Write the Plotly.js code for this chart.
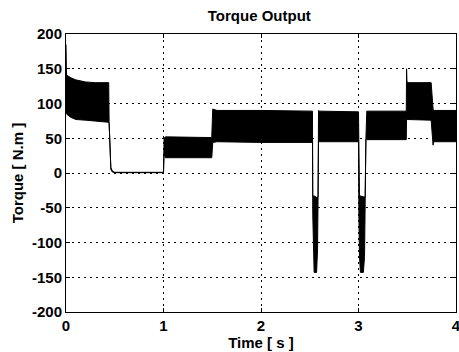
<!DOCTYPE html>
<html>
<head>
<meta charset="utf-8">
<script src="https://cdn.plot.ly/plotly-3.0.1.min.js"></script>
<style>html,body{margin:0;padding:0;background:#fff;}#chart{width:459px;height:352px;}</style>
</head>
<body>
<div id="chart"></div>
<script>
// Time axis samples (s)
const time = [0, 0.005, 0.05, 0.1, 0.2, 0.3, 0.438, 0.442, 0.46, 0.475, 0.5, 0.99, 1.0, 1.006, 1.02, 1.49, 1.495, 1.505, 1.55, 2.0, 2.528, 2.531, 2.536, 2.545, 2.57, 2.58, 2.585, 2.59, 2.6, 3.0, 3.004, 3.01, 3.02, 3.05, 3.062, 3.068, 3.076, 3.085, 3.49, 3.493, 3.497, 3.51, 3.745, 3.765, 3.77, 4.0];
// Upper envelope of the torque ripple (N.m)
const torqueUpper = [185, 141, 137, 134, 131, 130, 130, 74, 8, 3, 1, 1, 1, 50, 52, 51, 52, 92, 90, 90, 89, -33, -33, -33, -35, -35, -35, 90, 89, 88, -33, -33, -33, -35, -35, -35, 50, 89, 89, 150, 132, 130, 130, 92, 90, 90];
// Lower envelope of the torque ripple (N.m)
const torqueLower = [86, 85, 80, 77, 76, 75, 73, 72, 5, 1.5, 0.5, 0.5, 0.5, 28, 22, 22, 22, 44, 45, 44, 44, -60, -110, -143, -143, -110, -40, 45, 45, 45, -60, -120, -143, -143, -120, -40, 48, 48, 48, 77, 77, 77, 76, 40, 45, 45];

const xTicks = [0, 1, 2, 3, 4];
const yTicks = [-200, -150, -100, -50, 0, 50, 100, 150, 200];

const font = {family: 'Liberation Sans, Arial, sans-serif', size: 15, color: '#000', weight: 'bold'};

const traces = [
  {x: time, y: torqueLower, mode: 'lines', line: {color: '#000', width: 1}, hoverinfo: 'skip', showlegend: false},
  {x: time, y: torqueUpper, mode: 'lines', fill: 'tonexty', fillcolor: '#000', line: {color: '#000', width: 1}, hoverinfo: 'skip', showlegend: false}
];

const axisCommon = {
  showline: true, mirror: 'ticks', linecolor: '#000', linewidth: 1,
  ticks: 'inside', ticklen: 4, tickcolor: '#000',
  showgrid: true, gridcolor: '#000', gridwidth: 1, griddash: '2px,4px',
  zeroline: false, tickfont: font, ticklabeloverflow: 'allow'
};

const layout = {
  width: 459, height: 352,
  margin: {l: 66, r: 3, t: 34, b: 40},
  paper_bgcolor: '#fff', plot_bgcolor: '#fff',
  font: font,
  title: {text: 'Torque Output', font: font, x: 0.565, xanchor: 'center', y: 0.955, yanchor: 'middle'},
  xaxis: Object.assign({}, axisCommon, {range: [0, 4], tickvals: xTicks, ticktext: xTicks.map(String),
    title: {text: 'Time [ s ]', font: font, standoff: 3}}),
  yaxis: Object.assign({}, axisCommon, {range: [-200, 200], tickvals: yTicks, ticktext: yTicks.map(String),
    title: {text: 'Torque [ N.m ]', font: font, standoff: 4}})
};

Plotly.newPlot('chart', traces, layout, {displayModeBar: false, staticPlot: true});
</script>
</body>
</html>
